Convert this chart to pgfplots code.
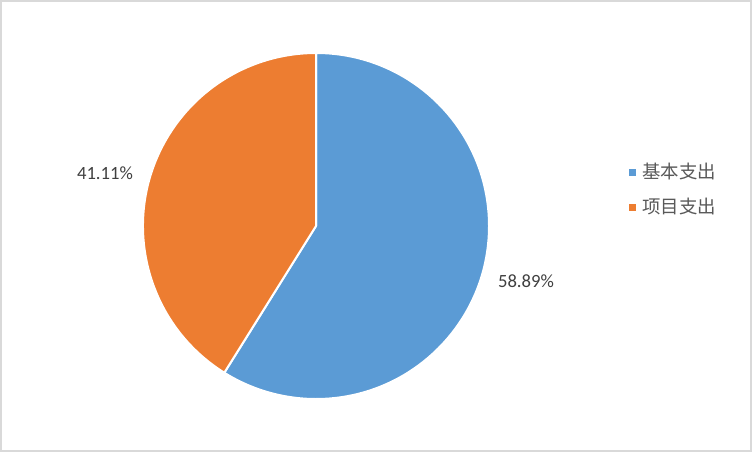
\documentclass[border=0pt]{standalone}
\usepackage{pgfplots}
\pgfplotsset{compat=1.18}
\usepackage{fontspec}
\setmainfont{Carlito}
\newfontfamily\cjk{Noto Sans CJK SC}
\definecolor{pblue}{HTML}{5B9BD5}
\definecolor{porange}{HTML}{ED7D31}
\definecolor{tgray}{HTML}{404040}
\definecolor{lgray}{HTML}{595959}
\definecolor{bgray}{HTML}{D9D9D9}
\pgfkeys{/pgf/number format/assume math mode=true}
\begin{document}
\begin{tikzpicture}
% values (percent)
\pgfmathsetmacro{\va}{58.89}
\pgfmathsetmacro{\vb}{41.11}
\pgfmathsetmacro{\sa}{90}
\pgfmathsetmacro{\ea}{90-3.6*\va}
\pgfmathsetmacro{\eb}{\ea-3.6*\vb}
\begin{axis}[width=564pt,height=339pt,scale only axis,
  xmin=0,xmax=752,ymin=0,ymax=452,y dir=reverse,hide axis,clip=false,
  /pgf/number format/assume math mode=true]
\fill[white] (axis cs:0,0) rectangle (axis cs:752,452);
\draw[bgray,line width=1.2pt] (axis cs:1,1) rectangle (axis cs:751,451);
\filldraw[fill=pblue,draw=white,line width=1.5pt,line join=round] (axis cs:316,226) -- ++(\sa:129.75pt) arc[start angle=\sa,end angle=\ea,radius=129.75pt] -- cycle;
\filldraw[fill=porange,draw=white,line width=1.5pt,line join=round] (axis cs:316,226) -- ++(\ea:129.75pt) arc[start angle=\ea,end angle=\eb,radius=129.75pt] -- cycle;
\node[text=tgray,font=\fontsize{14}{16}\selectfont] at (axis cs:526,281) {\pgfmathprintnumber[fixed,precision=2,fixed zerofill,assume math mode=true]{\va}\%};
\node[text=tgray,font=\fontsize{14}{16}\selectfont] at (axis cs:105,173) {\pgfmathprintnumber[fixed,precision=2,fixed zerofill,assume math mode=true]{\vb}\%};
\fill[pblue] (axis cs:629,169) rectangle (axis cs:636,176);
\fill[porange] (axis cs:629,204) rectangle (axis cs:636,211);
\node[anchor=west,text=lgray,font=\cjk\fontsize{13.8}{15}\selectfont,inner sep=0pt] at (axis cs:642,172) {基本支出};
\node[anchor=west,text=lgray,font=\cjk\fontsize{13.8}{15}\selectfont,inner sep=0pt] at (axis cs:642,207) {项目支出};
\end{axis}
\end{tikzpicture}
\end{document}
